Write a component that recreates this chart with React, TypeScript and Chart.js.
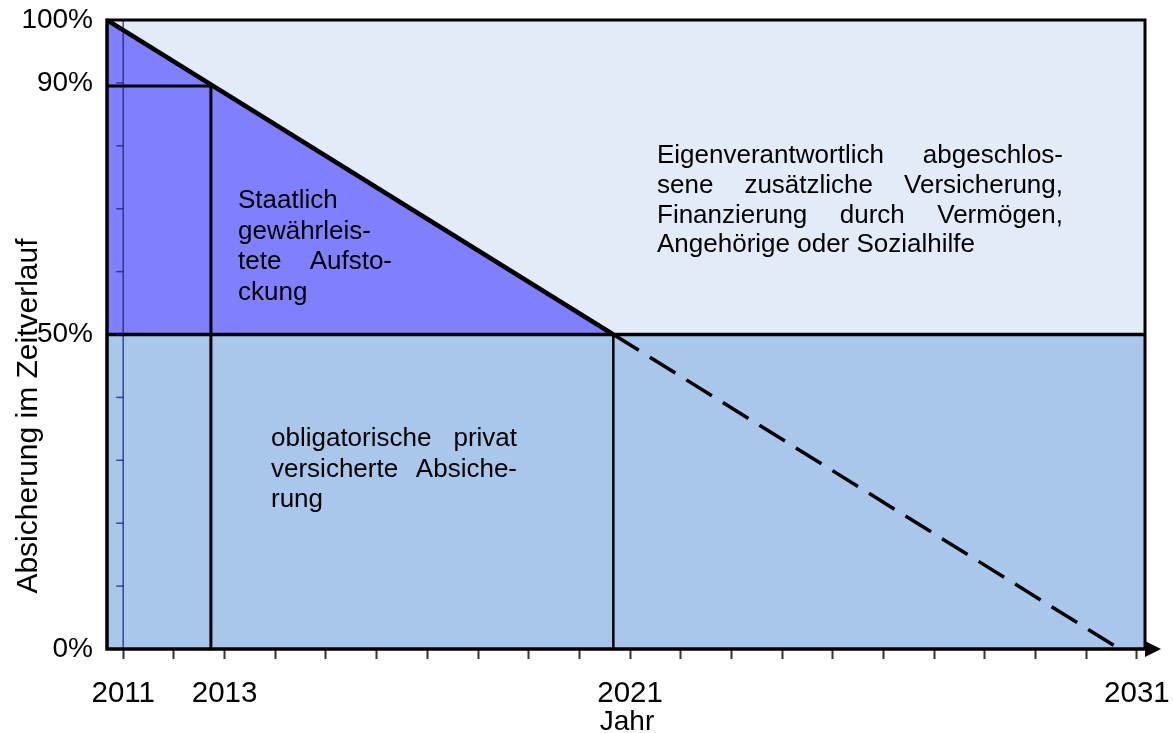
import React, { useEffect, useRef } from "react";
import { Chart, registerables } from "chart.js";

Chart.register(...registerables);

// ---------- data ----------
const X_MIN = 2010.68;
const X_MAX = 2031.16;
const YEAR_TICKS = [2011, 2012, 2013, 2014, 2015, 2016, 2017, 2018, 2019, 2020, 2021, 2022, 2023, 2024, 2025, 2026, 2027, 2028, 2029, 2030, 2031];
const LABELED_YEARS = [2011, 2013, 2021, 2031];
const Y_LABEL_TICKS = [0, 50, 90, 100];
const Y_MINOR_TICKS = [10, 20, 30, 40, 50, 60, 70, 80, 90];

const topLevel = [{ x: X_MIN, y: 100 }, { x: X_MAX, y: 100 }];
const mandatoryLevel = [{ x: X_MIN, y: 50 }, { x: X_MAX, y: 50 }];
const guaranteedLine = [{ x: 2010.68, y: 100 }, { x: 2020.67, y: 50 }];
const projectedLine = [{ x: 2020.67, y: 50 }, { x: 2030.66, y: 0 }];
const level90Line = [{ x: 2010.68, y: 89.5 }, { x: 2012.73, y: 89.5 }];
const year2013Line = [{ x: 2012.73, y: 0 }, { x: 2012.73, y: 89.5 }];
const year2021Line = [{ x: 2020.67, y: 0 }, { x: 2020.67, y: 50 }];
const startYearLine = [{ x: 2011, y: 0 }, { x: 2011, y: 100 }];

const stateText = ["Staatlich", "gewährleis-", "tete Aufsto-", "ckung"];
const mandatoryText = ["obligatorische privat", "versicherte Absiche-", "rung"];
const ownText = [
  "Eigenverantwortlich abgeschlos-",
  "sene zusätzliche Versicherung,",
  "Finanzierung durch Vermögen,",
  "Angehörige oder Sozialhilfe",
];
const Y_TITLE = "Absicherung im Zeitverlauf";
const X_TITLE = "Jahr";

// ---------- styles ----------
const FAMILY = "'Liberation Sans', Arial, Helvetica, sans-serif";
const LIGHT = "#E1ECF8";
const STATE = "#8080FF";
const MANDATORY = "#A9C6EB";
const NAVY = "rgba(20,30,110,0.75)";

function drawJustified(ctx: CanvasRenderingContext2D, lines: string[], left: number, right: number, top: number, lh: number) {
  lines.forEach((line, i) => {
    const y = top + i * lh;
    const words = line.split(" ");
    const isLast = i === lines.length - 1;
    if (isLast || words.length === 1) {
      ctx.fillText(line, left, y);
      return;
    }
    const total = words.reduce((s, w) => s + ctx.measureText(w).width, 0);
    const gap = (right - left - total) / (words.length - 1);
    let x = left;
    words.forEach((w) => {
      ctx.fillText(w, x, y);
      x += ctx.measureText(w).width + gap;
    });
  });
}

const decorPlugin = {
  id: "decor",
  afterDatasetsDraw(chart: any) {
    const { ctx, chartArea: a, scales } = chart;
    const xs = scales.x;
    const ys = scales.y;
    ctx.save();

    // minor ticks on 2011 line
    const x11 = xs.getPixelForValue(2011);
    ctx.strokeStyle = NAVY;
    ctx.lineWidth = 1.5;
    Y_MINOR_TICKS.forEach((v) => {
      const y = ys.getPixelForValue(v);
      ctx.beginPath();
      ctx.moveTo(x11 - 7, y);
      ctx.lineTo(x11, y);
      ctx.stroke();
    });

    // frame
    ctx.strokeStyle = "#000";
    ctx.lineWidth = 3;
    ctx.beginPath();
    ctx.moveTo(a.left, a.top);
    ctx.lineTo(a.right, a.top);
    ctx.lineTo(a.right, a.bottom);
    ctx.stroke();
    ctx.lineWidth = 3.5;
    ctx.beginPath();
    ctx.moveTo(a.left, a.top - 1.5);
    ctx.lineTo(a.left, a.bottom);
    ctx.lineTo(a.right + 2, a.bottom);
    ctx.stroke();
    // arrow
    ctx.fillStyle = "#000";
    ctx.beginPath();
    ctx.moveTo(a.right, a.bottom - 8);
    ctx.lineTo(a.right + 16, a.bottom);
    ctx.lineTo(a.right, a.bottom + 8);
    ctx.closePath();
    ctx.fill();

    // annotation texts
    ctx.fillStyle = "#000";
    ctx.textBaseline = "middle";
    ctx.textAlign = "left";
    ctx.font = `26px ${FAMILY}`;
    drawJustified(ctx, stateText, 238, 392, 201, 30.5);
    drawJustified(ctx, mandatoryText, 271, 517, 439, 30.5);
    drawJustified(ctx, ownText, 657, 1063, 156, 29.7);

    // axis titles
    ctx.font = `28px ${FAMILY}`;
    ctx.textAlign = "center";
    ctx.fillText(X_TITLE, 627, 722);
    ctx.save();
    ctx.translate(29, 416);
    ctx.rotate(-Math.PI / 2);
    ctx.font = `30px ${FAMILY}`;
    ctx.fillText(Y_TITLE, 0, 0);
    ctx.restore();

    ctx.restore();
  },
};

const lineDs = (data: any[], extra: any) => ({
  data,
  pointRadius: 0,
  pointHoverRadius: 0,
  tension: 0,
  fill: false,
  borderColor: "#000",
  ...extra,
});

export default function App() {
  const ref = useRef<HTMLCanvasElement | null>(null);

  useEffect(() => {
    if (!ref.current) return;
    const chart = new Chart(ref.current, {
      type: "line",
      data: {
        datasets: [
          lineDs(topLevel, { fill: "start", backgroundColor: LIGHT, borderColor: "transparent", borderWidth: 0, order: 40 }),
          lineDs(mandatoryLevel, { fill: "start", backgroundColor: MANDATORY, borderColor: "transparent", borderWidth: 0, order: 30 }),
          lineDs(guaranteedLine, { fill: { value: 50 }, backgroundColor: STATE, borderColor: "transparent", borderWidth: 0, order: 29 }),
          lineDs(startYearLine, { borderColor: NAVY, borderWidth: 1.5, order: 20 }),
          lineDs(level90Line, { borderWidth: 3, order: 10 }),
          lineDs(year2013Line, { borderWidth: 3, order: 10 }),
          lineDs(year2021Line, { borderWidth: 2.5, order: 10 }),
          lineDs(mandatoryLevel, { borderWidth: 3.5, order: 5 }),
          lineDs(guaranteedLine, { borderWidth: 4.5, order: 1 }),
          lineDs(projectedLine, { borderWidth: 3.5, borderDash: [30, 13], order: 1 }),
        ],
      },
      options: {
        responsive: false,
        animation: false,
        devicePixelRatio: 1,
        layout: { padding: { top: 20, right: 28, left: 0, bottom: 0 } },
        plugins: { legend: { display: false }, tooltip: { enabled: false } },
        events: [],
        scales: {
          x: {
            type: "linear",
            min: X_MIN,
            max: X_MAX,
            afterBuildTicks: (s: any) => {
              s.ticks = YEAR_TICKS.map((v) => ({ value: v }));
            },
            afterFit: (s: any) => {
              s.height = 84;
              s.paddingLeft = 0;
              s.paddingRight = 0;
            },
            ticks: {
              autoSkip: false,
              maxRotation: 0,
              padding: 17,
              color: "#000",
              font: { size: 29.5, family: FAMILY },
              callback: (v: any) => (LABELED_YEARS.includes(Math.round(Number(v))) ? String(Math.round(Number(v))) : ""),
            },
            grid: { drawOnChartArea: false, drawTicks: true, tickLength: 10, tickColor: "#333", tickWidth: 2 },
            border: { display: false },
          },
          y: {
            type: "linear",
            min: 0,
            max: 100,
            afterBuildTicks: (s: any) => {
              s.ticks = Y_LABEL_TICKS.map((v) => ({ value: v }));
            },
            afterFit: (s: any) => {
              s.width = 107;
              s.paddingTop = 0;
              s.paddingBottom = 0;
            },
            ticks: {
              padding: 6,
              color: "#000",
              font: { size: 28, family: FAMILY },
              callback: (v: any) => `${v}%`,
            },
            grid: { display: false },
            border: { display: false },
          },
        },
      },
      plugins: [decorPlugin],
    } as any);
    return () => chart.destroy();
  }, []);

  return (
    <div style={{ position: "fixed", left: 0, top: 0, width: 1173, height: 733, background: "#fff" }}>
      <canvas ref={ref} width={1173} height={733} style={{ display: "block" }} />
    </div>
  );
}
